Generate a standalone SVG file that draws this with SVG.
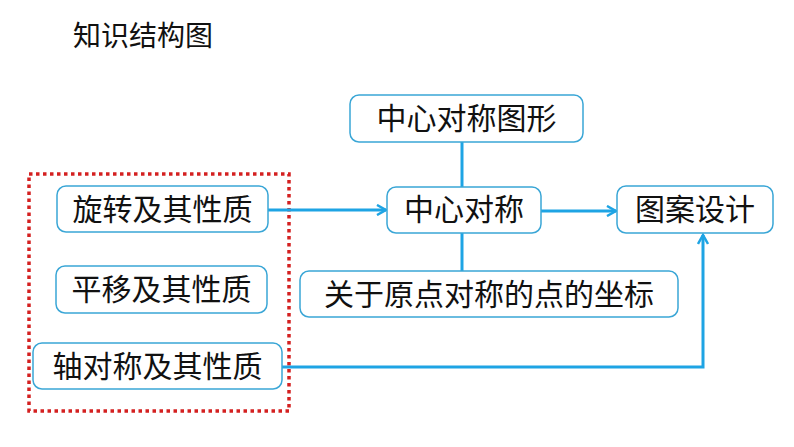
<svg xmlns="http://www.w3.org/2000/svg" width="794" height="447" viewBox="0 0 794 447">
<style>
.box{fill:#fff;stroke:#3aa6d6;stroke-width:1.5}
.t{font-family:"Noto Sans CJK SC","Noto Sans",sans-serif;font-size:30px;fill:#111;text-anchor:middle}
.c{fill:none;stroke:#1ea4e4;stroke-width:3}
</style>
<defs>
<marker id="ah" viewBox="0 0 12 12" refX="10" refY="6" markerWidth="12" markerHeight="12" markerUnits="userSpaceOnUse" orient="auto">
<path d="M1,1 L10,6 L1,11" fill="none" stroke="#1ea4e4" stroke-width="2.5"/>
</marker>
</defs>
<rect width="794" height="447" fill="#fff"/>
<text x="73" y="46" style="font-family:'Noto Sans CJK SC',sans-serif;font-size:28px;fill:#111">知识结构图</text>
<rect x="29" y="174" width="260" height="237" fill="none" stroke="#d42020" stroke-width="3.5" stroke-dasharray="3.5,3.5"/>
<g id="connectors">
<line class="c" x1="462" y1="142" x2="462" y2="187"/>
<line class="c" x1="462" y1="233" x2="462" y2="271"/>
<line class="c" x1="268" y1="210" x2="386" y2="210" marker-end="url(#ah)"/>
<line class="c" x1="541" y1="211" x2="616" y2="211" marker-end="url(#ah)"/>
<polyline class="c" points="282,367 703,367 703,235" marker-end="url(#ah)"/>
</g>
<g id="n1"><rect class="box" x="57" y="186" width="211" height="46" rx="9"/><text class="t" x="162.5" y="220">旋转及其性质</text></g>
<g id="n2"><rect class="box" x="56" y="266" width="211" height="47" rx="9"/><text class="t" x="161.5" y="300">平移及其性质</text></g>
<g id="n3"><rect class="box" x="33" y="343" width="249" height="46" rx="9"/><text class="t" x="157.5" y="377">轴对称及其性质</text></g>
<g id="n4"><rect class="box" x="350" y="95" width="233" height="47" rx="9"/><text class="t" x="466.5" y="129">中心对称图形</text></g>
<g id="n5"><rect class="box" x="387" y="187" width="154" height="46" rx="9"/><text class="t" x="464" y="220">中心对称</text></g>
<g id="n6"><rect class="box" x="300" y="271" width="378" height="46" rx="9"/><text class="t" x="489" y="305">关于原点对称的点的坐标</text></g>
<g id="n7"><rect class="box" x="617" y="186" width="156" height="47" rx="9"/><text class="t" x="695" y="220">图案设计</text></g>
</svg>
